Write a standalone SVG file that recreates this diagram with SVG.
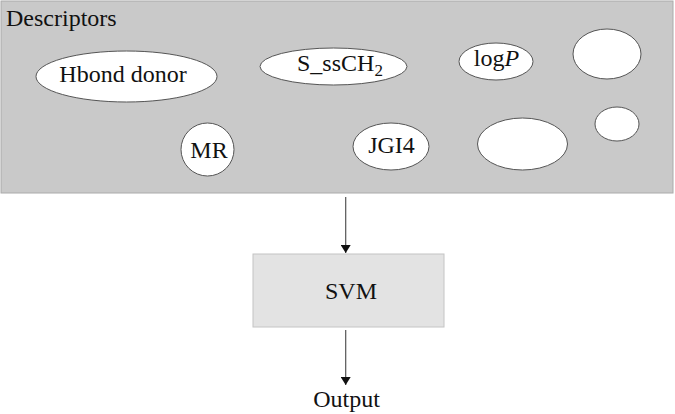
<svg xmlns="http://www.w3.org/2000/svg" width="675" height="414" viewBox="0 0 675 414">
<style>
text{font-family:"Liberation Serif","Times New Roman",serif;fill:#111}
.node{fill:#fff;stroke:#555;stroke-width:1}
.lbl{font-size:24px;text-anchor:middle}
.conn{stroke:#555;stroke-width:1.2;fill:none;marker-end:url(#ah)}
</style>
<defs>
<marker id="ah" viewBox="0 0 8 10" refX="8" refY="5" markerWidth="8" markerHeight="10" markerUnits="userSpaceOnUse" orient="auto">
<path d="M0,0 L8,5 L0,10 Z" fill="#111"/>
</marker>
</defs>
<g id="descriptors">
<rect x="1" y="1" width="672" height="192" fill="#c9c9c9" stroke="#aaa" stroke-width="1"/>
<text x="6" y="26" font-size="24">Descriptors</text>
</g>
<g id="hbond"><ellipse class="node" cx="126.5" cy="76.5" rx="90.5" ry="25.5"/><text class="lbl" x="123" y="82">Hbond donor</text></g>
<g id="sssch2"><ellipse class="node" cx="333.5" cy="66.5" rx="73.5" ry="18.5"/><text x="297" y="71" font-size="24">S_ssCH<tspan font-size="17" dy="5">2</tspan></text></g>
<g id="logp"><ellipse class="node" cx="496" cy="61.5" rx="37" ry="18.5"/><text class="lbl" x="496.5" y="66">log<tspan font-style="italic">P</tspan></text></g>
<g id="blank1"><ellipse class="node" cx="607" cy="54" rx="34" ry="25"/></g>
<g id="mr"><circle class="node" cx="207.5" cy="149.5" r="26.5"/><text class="lbl" x="209" y="158">MR</text></g>
<g id="jgi4"><ellipse class="node" cx="391" cy="146.5" rx="38" ry="23.5"/><text class="lbl" x="391.5" y="153">JGI4</text></g>
<g id="blank2"><ellipse class="node" cx="522.5" cy="144" rx="45" ry="26"/></g>
<g id="blank3"><ellipse class="node" cx="617" cy="124" rx="22" ry="17"/></g>
<g id="svm">
<rect x="253" y="254" width="191" height="73" fill="#e3e3e3" stroke="#c4c4c4" stroke-width="1"/>
<text class="lbl" x="351" y="299">SVM</text>
</g>
<g id="output"><text class="lbl" x="346.5" y="407">Output</text></g>
<g id="connectors">
<line class="conn" x1="345.7" y1="197" x2="345.7" y2="253"/>
<line class="conn" x1="345.7" y1="330" x2="345.7" y2="385"/>
</g>
</svg>
